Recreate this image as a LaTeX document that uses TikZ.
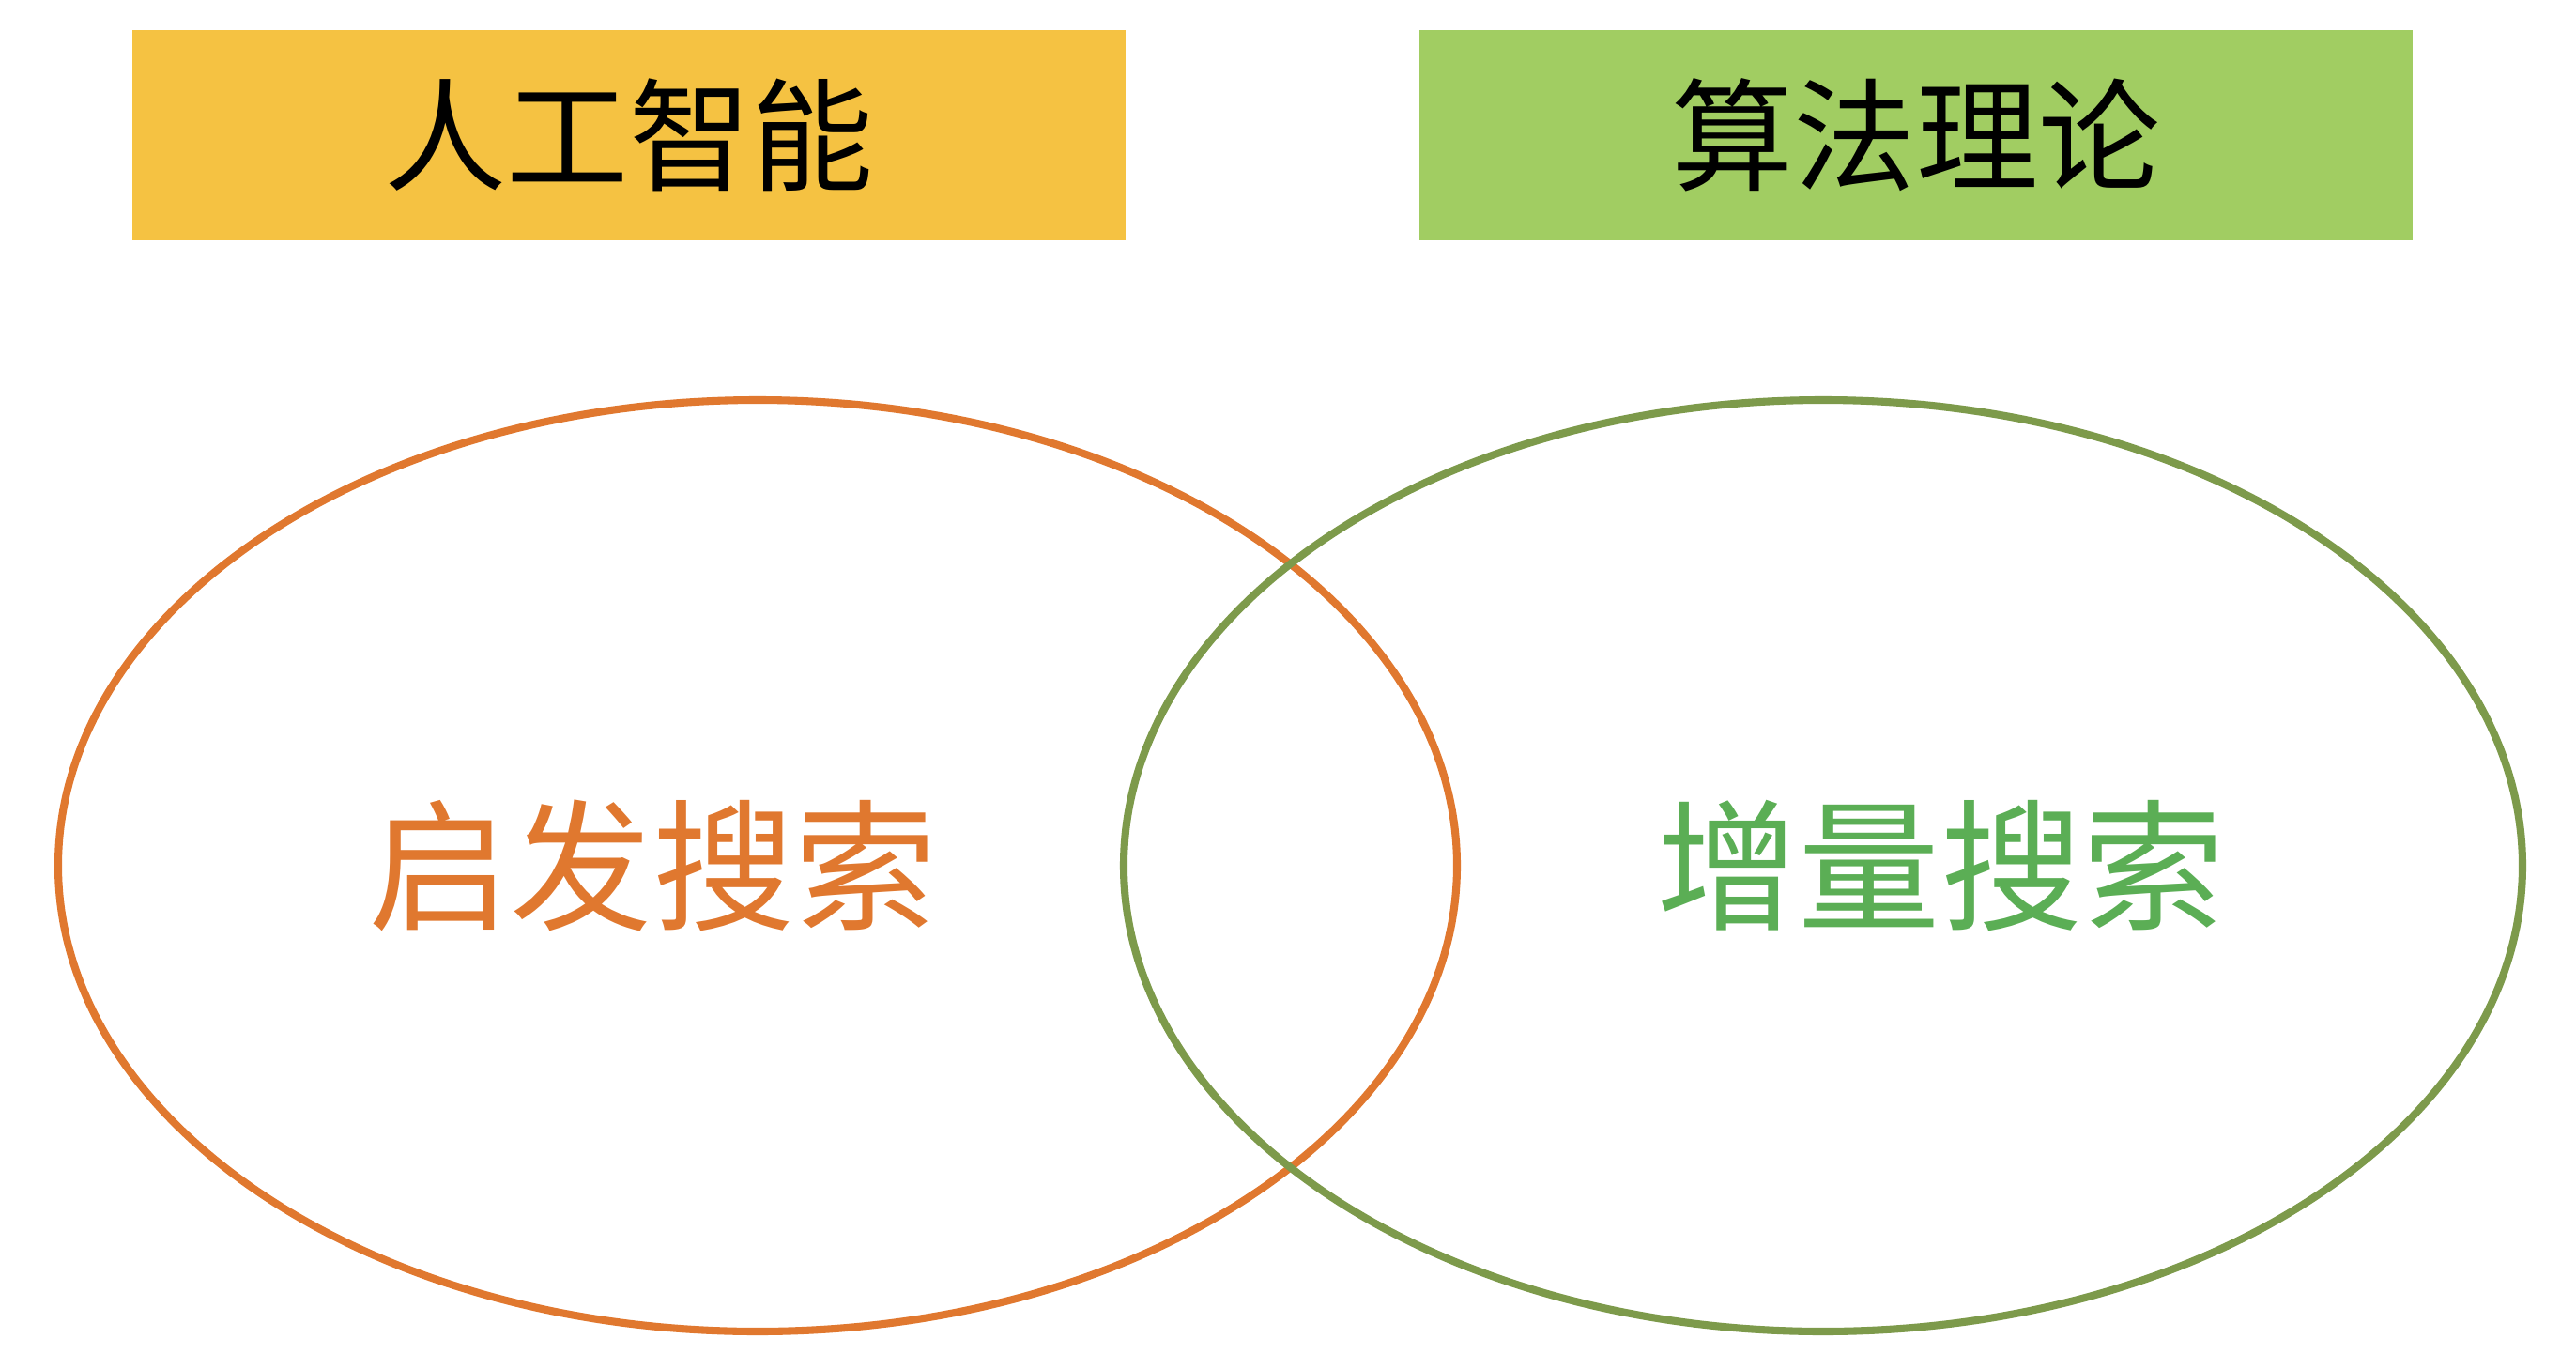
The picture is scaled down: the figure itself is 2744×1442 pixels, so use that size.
\documentclass[tikz,border=0pt]{standalone}
\usepackage{fontspec}
\setmainfont{Noto Sans CJK SC}
\usepackage{tikz}
\definecolor{titleyellow}{HTML}{F5C242}
\definecolor{titlegreen}{HTML}{A1CD62}
\definecolor{ringorange}{HTML}{E0782F}
\definecolor{ringgreen}{HTML}{7D9A4B}
\definecolor{textgreen}{HTML}{5BAE55}
\tikzset{
  titlebox/.style={minimum width=10.57cm, minimum height=2.23cm, inner sep=0pt,
    font=\fontsize{37}{40}\selectfont},
  ring/.style={line width=2.3pt},
  setlabel/.style={font=\fontsize{43}{46}\selectfont}
}

\begin{document}
\begin{tikzpicture}[x=0.01cm, y=-0.01cm]
\useasboundingbox (0,0) rectangle (2744,1442);
\node[titlebox,fill=titleyellow] (ai) at (670,144) {人工智能};
\node[titlebox,fill=titlegreen] (algo) at (2041,144) {算法理论};
\coordinate (lc) at (807,922);
\coordinate (rc) at (1942,922);
\draw[ring,ringorange] (lc) ellipse [x radius=745, y radius=496];
\draw[ring,ringgreen] (rc) ellipse [x radius=745, y radius=496];
\node[setlabel,text=ringorange] (heur) at (695,922) {启发搜索};
\node[setlabel,text=textgreen] (incr) at (2067,922) {增量搜索};
\end{tikzpicture}
\end{document}
